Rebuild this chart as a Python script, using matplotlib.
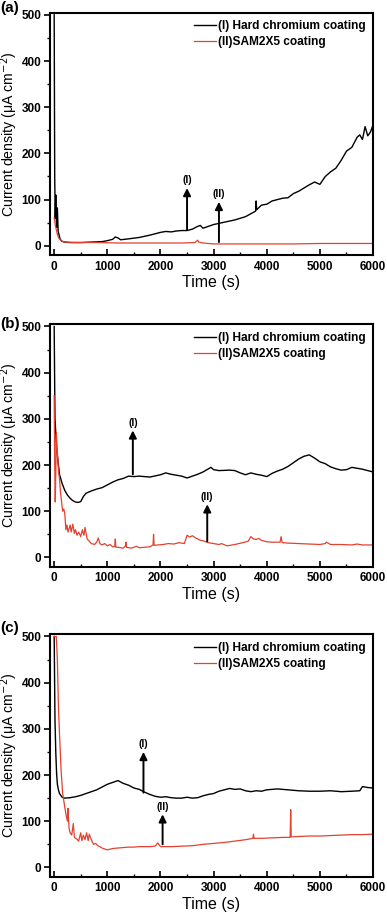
import numpy as np
import matplotlib.pyplot as plt

plt.rcParams['font.family'] = ['Liberation Sans', 'DejaVu Sans']

# ---- panel (a) ----
ta_cr = [0, 10, 20, 30, 45, 60, 75, 90, 110, 140, 200, 300, 500, 700, 900, 1000, 1100, 1150, 1200, 1250,
         1400, 1600, 1800, 2000, 2100, 2200, 2300, 2400, 2500, 2600, 2700, 2750, 2800, 2850, 3000, 3200,
         3400, 3600, 3790, 3800, 3810, 3900, 4000, 4100, 4200, 4300, 4400, 4500, 4600, 4700, 4800, 4900,
         5000, 5100, 5200, 5300, 5400, 5500, 5600, 5700, 5750, 5800, 5850, 5900, 5950, 6000]
ia_cr = [500, 150, 60, 110, 40, 82, 30, 25, 15, 10, 8, 7, 7, 8, 9, 11, 14, 19, 17, 13,
         15, 18, 23, 29, 31, 30, 32, 33, 33, 36, 42, 44, 38, 40, 46, 51,
         56, 63, 75, 97, 78, 88, 90, 97, 100, 103, 104, 113, 118, 125, 132, 138,
         133, 150, 160, 168, 185, 205, 213, 235, 240, 230, 258, 238, 246, 262]
ta_sam = [0, 10, 20, 40, 60, 80, 120, 160, 200, 400, 800, 1200, 1600, 2000, 2400, 2650, 2700, 2720, 2800,
          3000, 3400, 4000, 4500, 5000, 5500, 6000]
ia_sam = [60, 55, 45, 35, 25, 18, 12, 9, 8, 7, 7, 6, 6, 6, 6, 7, 12, 8, 6,
          4, 4, 4, 4, 5, 5, 5]

# ---- panel (b) ----
tb_cr = [0, 15, 30, 45, 60, 80, 100, 150, 200, 250, 300, 350, 400, 450, 500, 550, 600, 700, 800, 900,
         1000, 1100, 1200, 1300, 1400, 1500, 1600, 1800, 2000, 2100, 2200, 2300, 2400, 2500, 2600, 2700,
         2800, 2950, 3000, 3100, 3300, 3400, 3500, 3600, 3700, 3800, 3900, 4000, 4100, 4200, 4300, 4400,
         4500, 4600, 4700, 4800, 4900, 5000, 5100, 5200, 5300, 5400, 5500, 5600, 5700, 5800, 5900, 6000]
ib_cr = [500, 300, 270, 235, 220, 200, 180, 160, 145, 135, 128, 123, 120, 119, 121, 132, 139, 144, 148, 151,
         157, 163, 168, 171, 176, 175, 176, 174, 179, 183, 180, 178, 176, 172, 176, 180,
         185, 195, 190, 188, 189, 188, 183, 179, 183, 180, 178, 175, 182, 187, 191, 197,
         205, 213, 219, 222, 215, 207, 203, 196, 192, 189, 190, 195, 193, 191, 188, 185]
tb_sam = [0, 10, 20, 30, 40, 60, 80, 100, 120, 140, 160, 180, 200, 220, 240, 260, 280, 300, 320, 350,
          380, 400, 430, 460, 500, 530, 560, 580, 620, 660, 700, 760, 800, 830, 860, 900, 950, 1000,
          1050, 1100, 1140, 1150, 1160, 1200, 1300, 1340, 1350, 1360, 1450, 1550, 1600, 1700, 1800, 1860,
          1870, 1880, 1950, 2050, 2150, 2250, 2350, 2450, 2500, 2550, 2600, 2650, 2700, 2750, 2800, 2900,
          3000, 3100, 3150, 3250, 3400, 3550, 3650, 3700, 3750, 3800, 3850, 3900, 4000, 4100, 4250, 4270,
          4290, 4400, 4600, 4800, 5000, 5100, 5120, 5200, 5400, 5600, 5700, 5800, 6000]
ib_sam = [350, 200, 120, 180, 270, 230, 190, 170, 140, 120, 100, 105, 95, 60, 70, 55, 62, 70, 55, 72,
          52, 60, 48, 55, 45, 60, 48, 65, 40, 35, 30, 28, 33, 42, 30, 27, 30, 25,
          28, 23, 24, 40, 22, 22, 20, 25, 33, 22, 20, 24, 21, 22, 23, 27,
          50, 26, 27, 28, 30, 29, 32, 30, 48, 44, 47, 43, 40, 37, 36, 32,
          30, 28, 30, 25, 28, 32, 35, 45, 40, 39, 41, 37, 34, 33, 33, 45,
          32, 31, 30, 29, 28, 30, 33, 28, 28, 27, 29, 27, 27]

# ---- panel (c) ----
tc_cr = [0, 15, 30, 45, 60, 80, 100, 150, 200, 300, 400, 500, 600, 700, 800, 900, 1000, 1100, 1150, 1200,
         1300, 1400, 1500, 1600, 1700, 1800, 1900, 2000, 2100, 2200, 2300, 2400, 2500, 2600, 2700, 2800,
         2900, 3000, 3100, 3200, 3300, 3400, 3500, 3600, 3700, 3800, 3900, 4000, 4200, 4400, 4600, 4800,
         5000, 5200, 5400, 5600, 5750, 5800, 5900, 6000]
ic_cr = [500, 320, 250, 205, 180, 168, 160, 152, 150, 151, 153, 156, 160, 164, 168, 174, 180, 184, 186, 188,
         182, 178, 172, 169, 163, 158, 154, 152, 153, 151, 150, 150, 152, 150, 151, 155,
         158, 160, 165, 168, 171, 169, 170, 166, 164, 166, 165, 168, 170, 168, 166, 165,
         165, 166, 164, 165, 166, 175, 173, 172]
tc_sam = [0, 20, 40, 60, 80, 100, 130, 160, 200, 230, 250, 260, 280, 300, 330, 360, 380, 420, 460, 500,
          520, 550, 580, 610, 640, 660, 700, 740, 780, 820, 860, 900, 950, 1000, 1100, 1200, 1300, 1400,
          1500, 1600, 1700, 1800, 1900, 1950, 2000, 2200, 2400, 2600, 2800, 3000, 3200, 3400, 3600, 3740,
          3750, 3760, 3900, 4100, 4300, 4440, 4450, 4460, 4600, 4800, 5000, 5200, 5400, 5600, 5800, 6000]
ic_sam = [500, 500, 500, 450, 350, 290, 210, 160, 130, 110, 100, 128, 85, 75, 70, 95, 65, 62, 57, 75,
          58, 70, 60, 75, 58, 72, 60, 50, 52, 47, 45, 42, 40, 38, 41, 42, 43, 44,
          44, 45, 45, 45, 46, 53, 45, 45, 46, 47, 50, 52, 54, 57, 60, 63,
          72, 63, 63, 64, 65, 65, 125, 66, 67, 68, 68, 69, 70, 71, 71, 72]

panels = [
    ('(a)', ta_cr, ia_cr, ta_sam, ia_sam,
     [(2500, 35, 125, '(I)'), (3100, 8, 95, '(II)')], 1.017),
    ('(b)', tb_cr, ib_cr, tb_sam, ib_sam,
     [(1480, 180, 275, '(I)'), (2880, 35, 115, '(II)')], 1.0),
    ('(c)', tc_cr, ic_cr, tc_sam, ic_sam,
     [(1680, 162, 250, '(I)'), (2040, 50, 115, '(II)')], 1.025),
]

bottoms = [0.7213, 0.3807, 0.0419]
red = '#e4412f'

fig = plt.figure(figsize=(3.87, 9.15), dpi=100)
for (lab, t1, i1, t2, i2, arrows, ly), b in zip(panels, bottoms):
    ax = fig.add_axes([0.129, b, 0.835, 0.265])
    ax.plot(t1, i1, color='black', lw=1.0, label='(I) Hard chromium coating')
    ax.plot(t2, i2, color=red, lw=0.9, label='(II)SAM2X5 coating')
    for x, y0, y1, txt in arrows:
        ax.annotate('', xy=(x, y1), xytext=(x, y0),
                    arrowprops=dict(arrowstyle='-|>', color='black', lw=1.4,
                                    mutation_scale=11, shrinkA=0, shrinkB=0))
        ax.text(x, y1 + 6, txt, ha='center', va='bottom', fontsize=7.5, fontweight='bold')
    ax.set_xlim(-80, 6000)
    ax.set_ylim(-20, 505)
    ax.set_xticks([0, 1000, 2000, 3000, 4000, 5000, 6000])
    ax.set_yticks([0, 100, 200, 300, 400, 500])
    ax.set_xticks(np.arange(500, 6000, 1000), minor=True)
    ax.set_yticks(np.arange(50, 500, 100), minor=True)
    ax.tick_params(axis='x', direction='in', length=4, width=1.2, labelsize=8.5, pad=4)
    ax.tick_params(axis='x', which='minor', direction='in', length=2.5, width=1)
    ax.tick_params(axis='y', direction='out', length=4, width=1.2, labelsize=8.5, pad=2)
    ax.tick_params(axis='y', which='minor', direction='out', length=2.5, width=1)
    for lbl in ax.get_xticklabels() + ax.get_yticklabels():
        lbl.set_fontweight('bold')
    for s in ax.spines.values():
        s.set_linewidth(1.5)
    ax.set_xlabel('Time (s)', fontsize=11.5, labelpad=2)
    ax.set_ylabel('Current density (\u03bcA cm$^{-2}$)', fontsize=10.2)
    ax.yaxis.set_label_coords(-0.092, 0.5)
    ax.legend(loc='upper right', frameon=False, handlelength=1.9,
              handletextpad=0.1, labelspacing=0.35, borderaxespad=0.25,
              prop={'weight': 'bold', 'size': 8.6})
    ax.text(-0.155, ly, lab, transform=ax.transAxes, fontsize=11, fontweight='bold',
            ha='left', va='center')

fig.savefig('out.png', dpi=100)
